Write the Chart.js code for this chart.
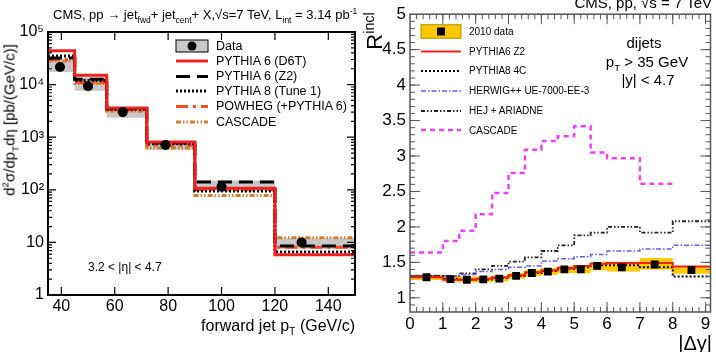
<!DOCTYPE html>
<html>
<head>
<meta charset="utf-8">
<script src="https://cdn.jsdelivr.net/npm/chart.js@4.4.1/dist/chart.umd.min.js"></script>
<style>
body { margin: 0; background: #fff; width: 716px; height: 352px; overflow: hidden; position: relative;
       font-family: "Liberation Sans", Arial, sans-serif; }
canvas { position: absolute; top: 0; }
#left { left: 0; }
#right { left: 360px; }
.t { position: absolute; white-space: nowrap; color: #000; line-height: 1; }
.t sub, .t sup { font-size: 65%; line-height: 0; }
.rot { transform: translate(-50%, -50%) rotate(-90deg); }
.c { transform: translateX(-50%); }
</style>
</head>
<body>
<canvas id="left" width="360" height="352"></canvas>
<canvas id="right" width="356" height="352"></canvas>

<!-- left panel text -->
<div class="t" style="left:53px;top:8px;font-size:13px">CMS, pp → jet<sub>fwd</sub>+ jet<sub>cent</sub>+ X,√s=7 TeV, L<sub>int</sub> = 3.14 pb<sup>-1</sup></div>
<div class="t rot" style="left:9px;top:120px;font-size:15px">d<sup>2</sup>σ/dp<sub>T</sub>dη [pb/(GeV/c)]</div>
<div class="t" style="right:361px;top:318px;font-size:16px">forward jet p<sub>T</sub> (GeV/c)</div>
<div class="t" style="left:88px;top:261px;font-size:12px">3.2 &lt; |η| &lt; 4.7</div>
<div class="t" style="left:216px;top:39.5px;font-size:12.5px">Data</div>
<div class="t" style="left:216px;top:54.5px;font-size:12.5px">PYTHIA 6 (D6T)</div>
<div class="t" style="left:216px;top:70px;font-size:12.5px">PYTHIA 6 (Z2)</div>
<div class="t" style="left:216px;top:84.5px;font-size:12.5px">PYTHIA 8 (Tune 1)</div>
<div class="t" style="left:216px;top:100px;font-size:12.5px">POWHEG (+PYTHIA 6)</div>
<div class="t" style="left:216px;top:115.5px;font-size:12.5px">CASCADE</div>

<!-- right panel text -->
<div class="t" style="right:4px;top:-5px;font-size:15px">CMS, pp, √s = 7 TeV</div>
<div class="t rot" style="left:375px;top:31px;font-size:22px">R<sup>incl</sup></div>
<div class="t c" style="left:644px;top:35px;font-size:15px">dijets</div>
<div class="t c" style="left:647px;top:54px;font-size:15px">p<sub>T</sub> &gt; 35 GeV</div>
<div class="t c" style="left:648px;top:72px;font-size:15px">|y| &lt; 4.7</div>
<div class="t" style="right:4px;top:333px;font-size:20px">|Δy|</div>
<div class="t" style="left:469px;top:26.5px;font-size:10px">2010 data</div>
<div class="t" style="left:469px;top:46.5px;font-size:10px">PYTHIA6 Z2</div>
<div class="t" style="left:469px;top:66px;font-size:10px">PYTHIA8 4C</div>
<div class="t" style="left:469px;top:86px;font-size:10px">HERWIG++ UE-7000-EE-3</div>
<div class="t" style="left:469px;top:106px;font-size:10px">HEJ + ARIADNE</div>
<div class="t" style="left:469px;top:125.5px;font-size:10px">CASCADE</div>

<script>
// ---- left panel: forward jet pT spectrum ----
const ptEdges = [35, 45, 57, 72, 90, 120, 150];
const ptData = [39.5, 50, 63, 79, 100, 130];
const xsData = [21600, 9300, 3000, 710, 115, 10];
const xsBandHi = [29500, 13800, 3450, 810, 150, 12];
const xsBandLo = [17400, 7600, 2350, 575, 100, 7.4];
const xsD6T = [44000, 15000, 3600, 810, 107, 5.8];
const xsZ2 = [32000, 12600, 3500, 780, 140, 8.5];
const xsPy8 = [35000, 12000, 3400, 750, 95, 6.6];
const xsPowheg = [30000, 11000, 3300, 700, 100, 8.1];
const xsCascade = [28000, 10500, 3100, 620, 78, 12.3];
const ptTicks = [40, 60, 80, 100, 120, 140];
const xsTicks = [1, 10, 100, 1000, 10000, 100000];
const xsTickLabels = ['1', '10', '10²', '10³', '10⁴', '10⁵'];

// ---- right panel: R incl vs |dy| ----
const dyEdges = [0, 1, 1.5, 2, 2.5, 3, 3.5, 4, 4.5, 5, 5.5, 6, 7, 8, 9.15];
const dyData = [0.5, 1.23, 1.73, 2.23, 2.72, 3.23, 3.71, 4.2, 4.7, 5.2, 5.7, 6.45, 7.45, 8.57];
const rData = [1.29, 1.265, 1.255, 1.26, 1.27, 1.31, 1.35, 1.37, 1.40, 1.40, 1.45, 1.43, 1.47, 1.39];
const rBandHi = [1.33, 1.31, 1.30, 1.30, 1.31, 1.35, 1.395, 1.42, 1.45, 1.46, 1.51, 1.51, 1.56, 1.45];
const rBandLo = [1.25, 1.225, 1.215, 1.22, 1.23, 1.27, 1.305, 1.325, 1.35, 1.345, 1.39, 1.37, 1.40, 1.34];
const rZ2 = [1.29, 1.255, 1.255, 1.27, 1.29, 1.32, 1.36, 1.39, 1.42, 1.45, 1.48, 1.49, 1.49, 1.44];
const rPy8 = [1.30, 1.27, 1.26, 1.26, 1.28, 1.31, 1.35, 1.38, 1.41, 1.43, 1.46, 1.46, 1.43, 1.30];
const rHerwig = [1.31, 1.31, 1.33, 1.37, 1.40, 1.43, 1.45, 1.52, 1.55, 1.58, 1.61, 1.66, 1.69, 1.74];
const rHej = [1.31, 1.31, 1.345, 1.40, 1.45, 1.51, 1.57, 1.66, 1.74, 1.88, 1.92, 2.00, 1.92, 2.08];
const rCascade = [1.64, 1.80, 1.945, 2.18, 2.48, 2.76, 3.09, 3.21, 3.28, 3.42, 3.05, 2.97, 2.61];
const dyTicks = [0, 1, 2, 3, 4, 5, 6, 7, 8, 9];
const rTicks = [1, 1.5, 2, 2.5, 3, 3.5, 4, 4.5, 5];

// histogram as step line: bin i value from edge i to edge i+1
function steps(edges, vals) {
  const pts = vals.map((v, i) => ({ x: edges[i], y: v }));
  pts.push({ x: edges[vals.length], y: vals[vals.length - 1] });
  return pts;
}
function hist(edges, vals, color, width, dash) {
  return { data: steps(edges, vals), stepped: 'before', borderColor: color, borderWidth: width,
           borderDash: dash, pointRadius: 0, fill: false };
}
function points(xs, ys, style, r) {
  return { data: xs.map((x, i) => ({ x: x, y: ys[i] })), showLine: false, pointStyle: style,
           pointRadius: r, backgroundColor: '#000', borderColor: '#000', borderWidth: 0 };
}

// frame with inward ticks on all four sides (ROOT style)
const frame = {
  id: 'frame',
  afterDatasetsDraw(chart, args, o) {
    const { ctx, chartArea: a } = chart;
    const x = chart.scales.x, y = chart.scales.y;
    ctx.save();
    ctx.strokeStyle = o.color;
    ctx.lineWidth = o.tickWidth;
    ctx.beginPath();
    const tx = (vals, len) => vals.forEach(v => {
      const p = x.getPixelForValue(v);
      if (p < a.left + 1 || p > a.right - 1) return;
      ctx.moveTo(p, a.bottom); ctx.lineTo(p, a.bottom - len);
      ctx.moveTo(p, a.top); ctx.lineTo(p, a.top + len);
    });
    const ty = (vals, len) => vals.forEach(v => {
      const p = y.getPixelForValue(v);
      if (p < a.top + 1 || p > a.bottom - 1) return;
      ctx.moveTo(a.left, p); ctx.lineTo(a.left + len, p);
      ctx.moveTo(a.right, p); ctx.lineTo(a.right - len, p);
    });
    tx(o.xMajor, o.majorLen); tx(o.xMinor, o.minorLen);
    ty(o.yMajor, o.majorLen); ty(o.yMinor, o.minorLen);
    ctx.stroke();
    ctx.lineWidth = o.width;
    ctx.strokeRect(a.left, a.top, a.right - a.left, a.bottom - a.top);
    ctx.restore();
  }
};

// legend symbols (labels are html text)
const legendMarks = {
  id: 'legendMarks',
  afterDraw(chart, args, o) {
    const ctx = chart.ctx;
    ctx.save();
    o.items.forEach(it => {
      if (it.box) {
        ctx.fillStyle = it.fill;
        ctx.fillRect(o.x0, it.y - it.h / 2, o.x1 - o.x0, it.h);
        ctx.strokeStyle = it.stroke; ctx.lineWidth = 1;
        ctx.strokeRect(o.x0, it.y - it.h / 2, o.x1 - o.x0, it.h);
        ctx.fillStyle = '#000';
        const cx = (o.x0 + o.x1) / 2;
        if (it.box === 'circle') { ctx.beginPath(); ctx.arc(cx, it.y, 4.5, 0, Math.PI * 2); ctx.fill(); }
        else ctx.fillRect(cx - 4, it.y - 4, 8, 8);
      } else {
        ctx.strokeStyle = it.color; ctx.lineWidth = it.width;
        ctx.setLineDash(it.dash || []);
        ctx.beginPath(); ctx.moveTo(o.x0, it.y); ctx.lineTo(o.x1, it.y); ctx.stroke();
        ctx.setLineDash([]);
      }
    });
    ctx.restore();
  }
};

const red = '#ee2020', orange = '#ff4a1c', brown = '#d08030', gray = '#c8c8c8';
const blue = '#6a5ce0', magenta = '#f040f0', yellow = '#ffc800';

const dashZ2 = [14, 7], dot = [2, 2], dashPow = [12, 5, 3, 5], dashCas = [5, 2, 1.5, 2, 1.5, 2];

function yTickMinorsLog() {
  const m = [];
  for (let d = 1; d < 100000; d *= 10) for (let k = 2; k <= 9; k++) m.push(k * d);
  return m;
}
function range(a, b, s) { const r = []; for (let v = a; v <= b + 1e-9; v += s) r.push(+v.toFixed(4)); return r; }

const noGrid = { display: false, drawTicks: false, tickLength: 0 };

new Chart(document.getElementById('left'), {
  type: 'line',
  data: {
    datasets: [
      points(ptData, xsData, 'circle', 5),
      hist(ptEdges, xsD6T, red, 3),
      hist(ptEdges, xsZ2, '#000', 3, dashZ2),
      hist(ptEdges, xsPy8, '#000', 3, dot),
      hist(ptEdges, xsPowheg, orange, 3, dashPow),
      hist(ptEdges, xsCascade, brown, 3, dashCas),
      { data: steps(ptEdges, xsBandHi), stepped: 'before', borderWidth: 0, pointRadius: 0, fill: false },
      { data: steps(ptEdges, xsBandLo), stepped: 'before', borderWidth: 0, pointRadius: 0,
        fill: '-1', backgroundColor: gray }
    ]
  },
  options: {
    responsive: false, animation: false,
    layout: { padding: { top: 32, right: 5, left: 0, bottom: 0 } },
    plugins: {
      legend: { display: false }, tooltip: { enabled: false },
      frame: { color: '#000', width: 2, tickWidth: 1.2, majorLen: 8, minorLen: 4,
               xMajor: ptTicks, xMinor: [], yMajor: xsTicks, yMinor: yTickMinorsLog() },
      legendMarks: { x0: 176, x1: 208, items: [
        { box: 'circle', y: 46, h: 12, fill: gray, stroke: '#000' },
        { y: 61, color: red, width: 3 },
        { y: 76.5, color: '#000', width: 3, dash: dashZ2 },
        { y: 91, color: '#000', width: 3, dash: dot },
        { y: 106.5, color: orange, width: 3, dash: dashPow },
        { y: 122, color: brown, width: 3, dash: dashCas }
      ] }
    },
    scales: {
      x: { type: 'linear', min: 35, max: 150,
           afterBuildTicks: s => { s.ticks = ptTicks.map(v => ({ value: v })); },
           afterFit: s => { s.height = 57; },
           grid: noGrid, border: { display: false },
           ticks: { color: '#000', font: { size: 16, family: 'Liberation Sans' }, padding: 2,
                    maxRotation: 0, autoSkip: false } },
      y: { type: 'logarithmic', min: 1, max: 100000,
           afterBuildTicks: s => { s.ticks = xsTicks.map(v => ({ value: v })); },
           afterFit: s => { s.width = 48; },
           grid: noGrid, border: { display: false },
           ticks: { color: '#000', font: { size: 16, family: 'Liberation Sans' }, padding: 4,
                    callback: v => xsTickLabels[xsTicks.indexOf(v)] } }
    }
  },
  plugins: [frame, legendMarks]
});

new Chart(document.getElementById('right'), {
  type: 'line',
  data: {
    datasets: [
      points(dyData, rData, 'rect', 5.5),
      hist(dyEdges, rZ2, red, 2),
      hist(dyEdges, rPy8, '#000', 2, dot),
      hist(dyEdges, rHerwig, blue, 1.5, [5, 2, 1.5, 2]),
      hist(dyEdges, rHej, '#222', 1.8, [4, 2, 1.5, 2, 1.5, 2]),
      hist(dyEdges, rCascade, magenta, 2.5, [5, 4]),
      { data: steps(dyEdges, rBandHi), stepped: 'before', borderWidth: 0, pointRadius: 0, fill: false },
      { data: steps(dyEdges, rBandLo), stepped: 'before', borderWidth: 0, pointRadius: 0,
        fill: '-1', backgroundColor: yellow }
    ]
  },
  options: {
    responsive: false, animation: false,
    layout: { padding: { top: 13, right: 4, left: 0, bottom: 0 } },
    plugins: {
      legend: { display: false }, tooltip: { enabled: false },
      frame: { color: '#555', width: 1.5, tickWidth: 1, majorLen: 10, minorLen: 5,
               xMajor: dyTicks, xMinor: range(0, 9.2, 0.2), yMajor: rTicks, yMinor: range(0.8, 5, 0.1) },
      legendMarks: { x0: 61, x1: 101, items: [
        { box: 'rect', y: 31.5, h: 13.5, fill: yellow, stroke: '#b08a00' },
        { y: 51.5, color: red, width: 2 },
        { y: 71, color: '#000', width: 2, dash: dot },
        { y: 91, color: blue, width: 1.5, dash: [5, 2, 1.5, 2] },
        { y: 111, color: '#222', width: 1.8, dash: [4, 2, 1.5, 2, 1.5, 2] },
        { y: 130, color: magenta, width: 2.5, dash: [5, 4] }
      ] }
    },
    scales: {
      x: { type: 'linear', min: 0, max: 9.15,
           afterBuildTicks: s => { s.ticks = dyTicks.map(v => ({ value: v })); },
           afterFit: s => { s.height = 40; },
           grid: noGrid, border: { display: false },
           ticks: { color: '#000', font: { size: 17, family: 'Liberation Sans' }, padding: 2,
                    maxRotation: 0, autoSkip: false } },
      y: { type: 'linear', min: 0.8, max: 5,
           afterBuildTicks: s => { s.ticks = rTicks.map(v => ({ value: v })); },
           afterFit: s => { s.width = 50; },
           grid: noGrid, border: { display: false },
           ticks: { color: '#000', font: { size: 17, family: 'Liberation Sans' }, padding: 4,
                    callback: v => String(v) } }
    }
  },
  plugins: [frame, legendMarks]
});
</script>
</body>
</html>
